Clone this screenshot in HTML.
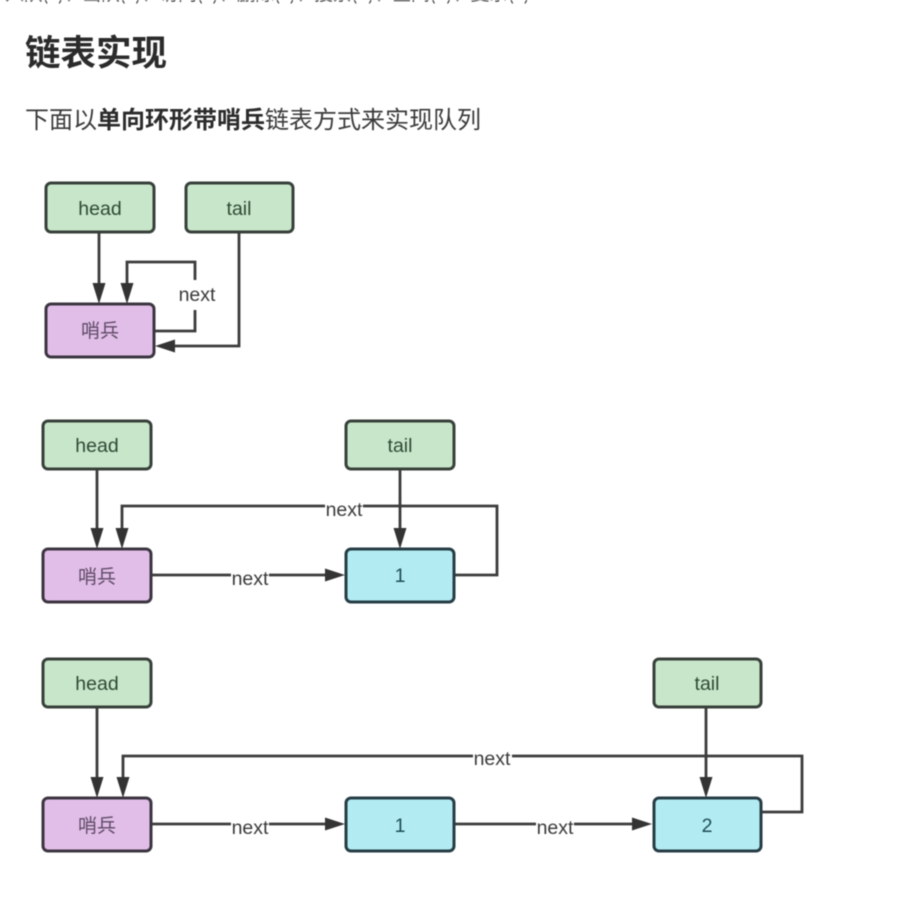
<!DOCTYPE html>
<html lang="zh"><head><meta charset="utf-8"><title>链表实现</title>
<style>
html,body{margin:0;padding:0;background:#fff}
body{width:915px;height:907px;overflow:hidden;position:relative}
svg{position:absolute;left:0;top:0;filter:blur(.45px)}
</style></head>
<body>
<svg width="915" height="907" viewBox="0 0 915 907" xmlns="http://www.w3.org/2000/svg" font-family="'Liberation Sans','Noto Sans CJK SC',sans-serif">
<defs>
<style>
.g{fill:#c8e6c9;stroke:#37403a;stroke-width:3}
.p{fill:#e1bee7;stroke:#3c3540;stroke-width:3}
.b{fill:#b2ebf2;stroke:#263c44;stroke-width:3}
.l{fill:none;stroke:#3c3c3c;stroke-width:2.8}
.a{fill:#333}
.t{font-size:19.5px;text-anchor:middle;fill:#2e4a35}
.n{font-size:19.5px;text-anchor:middle;fill:#3a3a3a}
.s{font-size:19px;text-anchor:middle;fill:#5e4a66;font-family:'Noto Sans CJK SC',sans-serif}
.c{font-size:19.5px;text-anchor:middle;fill:#1f4c58}
</style>
</defs>
<text x="5" y="0" font-size="19" fill="#444" font-family="'Noto Sans CJK SC',sans-serif" textLength="525">入队(1)、出队(1)、访问(1)、删除(1)、搜索(n)、空间(n)、复杂(1)</text>
<text x="25" y="65" font-size="35.5" font-weight="700" fill="#2b2b2b" font-family="'Noto Sans CJK SC',sans-serif">链表实现</text>
<text x="25" y="128" font-size="24" fill="#3a3a3a" font-family="'Noto Sans CJK SC',sans-serif">下面以<tspan font-weight="700" fill="#2b2b2b">单向环形带哨兵</tspan>链表方式来实现队列</text>

<!-- Diagram 1 -->
<path class="l" d="M99 232V286"/><path class="a" d="M92.500 283H105.500L99 304Z"/>
<path class="l" d="M195 280V262H127V286"/><path class="a" d="M120.500 283H133.500L127 304Z"/>
<path class="l" d="M195 310V331H155"/>
<path class="l" d="M239 232V346H172"/><path class="a" d="M175 339.500V352.500L155 346Z"/>
<rect class="g" x="46" y="183" width="108" height="49" rx="5"/>
<rect class="g" x="186" y="183" width="107" height="49" rx="5"/>
<rect class="p" x="46" y="304" width="108" height="53" rx="5"/>
<text class="t" x="100" y="215">head</text><text class="t" x="239" y="215">tail</text>
<text class="s" x="100" y="337">哨兵</text><text class="n" x="197" y="301">next</text>

<!-- Diagram 2 -->
<path class="l" d="M97 469V531"/><path class="a" d="M90.500 528H103.500L97 549Z"/>
<path class="l" d="M454 575H497V506H122V531"/><path class="a" d="M115.500 528H128.500L122 549Z"/>
<path class="l" d="M151 575H328"/><path class="a" d="M325 568.500V581.500L345 575Z"/>
<rect x="325" y="497" width="38" height="22" fill="#fff"/>
<rect x="231" y="566" width="38" height="22" fill="#fff"/>
<path class="l" d="M400 469V531"/><path class="a" d="M393.500 528H406.500L400 549Z"/>
<rect class="g" x="43" y="421" width="108" height="48" rx="5"/>
<rect class="g" x="346" y="421" width="108" height="48" rx="5"/>
<rect class="p" x="43" y="549" width="108" height="53" rx="5"/>
<rect class="b" x="346" y="549" width="108" height="53" rx="5"/>
<text class="t" x="97" y="452">head</text><text class="t" x="400" y="452">tail</text>
<text class="s" x="97" y="583">哨兵</text><text class="c" x="400" y="582">1</text>
<text class="n" x="344" y="516">next</text><text class="n" x="250" y="585">next</text>

<!-- Diagram 3 -->
<path class="l" d="M97 707V780"/><path class="a" d="M90.500 777H103.500L97 798Z"/>
<path class="l" d="M761 812H802V756H123V780"/><path class="a" d="M116.500 777H129.500L123 798Z"/>
<path class="l" d="M706 707V780"/><path class="a" d="M699.500 777H712.500L706 798Z"/>
<path class="l" d="M151 824H328"/><path class="a" d="M325 817.500V830.500L345 824Z"/>
<path class="l" d="M454 824H636"/><path class="a" d="M632 817.500V830.500L652 824Z"/>
<rect x="473" y="747" width="39" height="22" fill="#fff"/>
<rect x="231" y="815" width="38" height="22" fill="#fff"/>
<rect x="536" y="815" width="38" height="22" fill="#fff"/>
<rect class="g" x="43" y="659" width="108" height="48" rx="5"/>
<rect class="g" x="654" y="659" width="107" height="48" rx="5"/>
<rect class="p" x="43" y="798" width="108" height="53" rx="5"/>
<rect class="b" x="346" y="798" width="108" height="53" rx="5"/>
<rect class="b" x="654" y="798" width="107" height="53" rx="5"/>
<text class="t" x="97" y="690">head</text><text class="t" x="707" y="690">tail</text>
<text class="s" x="97" y="832">哨兵</text><text class="c" x="400" y="832">1</text><text class="c" x="707" y="832">2</text>
<text class="n" x="492" y="765">next</text><text class="n" x="250" y="834">next</text><text class="n" x="555" y="834">next</text>
</svg>
</body></html>
